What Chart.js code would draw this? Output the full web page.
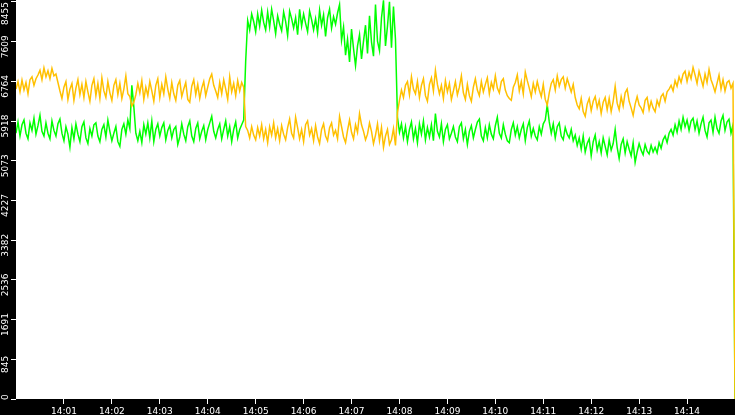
<!DOCTYPE html>
<html>
<head>
<meta charset="UTF-8">
<title>Line chart</title>
<script src="https://cdn.jsdelivr.net/npm/chart.js"></script>
<style>
    html, body { margin: 0; padding: 0; background: #000; }
    #chart { display: block; }
</style>
</head>
<body>
<canvas id="chart" width="735" height="415"></canvas>
<script>
// one sample every 2.5 s, starting 14:00:00
const STEP_S = 2.5;

const xTickSeconds = [60, 120, 180, 240, 300, 360, 420, 480, 540, 600, 660, 720, 780, 840];
const xTickLabels = ['14:01', '14:02', '14:03', '14:04', '14:05', '14:06', '14:07',
                     '14:08', '14:09', '14:10', '14:11', '14:12', '14:13', '14:14'];

const yTickValues = [0, 845.5, 1691, 2536.5, 3382, 4227.5, 5073, 5918.5, 6764, 7609.5, 8455];
const yTickLabels = ['0', '845', '1691', '2536', '3382', '4227', '5073', '5918', '6764', '7609', '8455'];

const orangeValues = [
    6600, 6760, 6540, 6790, 6580, 6740, 6500, 6800, 6860, 6680,
    6820, 6900, 7000, 6800, 7050, 6860, 6990, 6820, 7040, 6880,
    6920, 6740, 6560, 6400, 6640, 6760, 6380, 6600, 6720, 6360,
    6620, 6800, 6480, 6700, 6420, 6760, 6540, 6340, 6680, 6820,
    6460, 6720, 6400, 6840, 6560, 6420, 6760, 6520, 6360, 6680,
    6800, 6480, 6720, 6400, 6600, 6880, 6500, 6440, 6240, 6320,
    6480, 6720, 6520, 6780, 6380, 6640, 6460, 6760, 6560, 6340,
    6680, 6820, 6420, 6700, 6500, 6860, 6600, 6400, 6740, 6500,
    6360, 6680, 6780, 6440, 6600, 6740, 6380, 6320, 6660, 6800,
    6480, 6700, 6400, 6620, 6760, 6460, 6640, 6820, 6920, 6680,
    6560, 6420, 6740, 6500, 6800, 6600, 6380, 6860, 6540, 6720,
    6460, 6780, 6560, 6740, 6640, 5800, 5720, 5560, 5800, 5620,
    5520, 5780, 5600, 5840, 5540, 5740, 5460, 5800, 5620, 5880,
    5560, 5760, 5500, 5820, 5640, 5520, 5780, 5960, 5660, 5560,
    6000, 5780, 5540, 5740, 5480, 5840, 5920, 5620, 5760, 5500,
    5820, 5580, 5440, 5740, 5860, 5600, 5500, 5780, 5880, 5620,
    5720, 5540, 6020, 5800, 5580, 5460, 5720, 5940, 5680, 5540,
    5840, 5680, 6080, 5840, 5700, 5520, 5640, 5880, 5700, 5440,
    5620, 5860, 5500, 5780, 5360, 5600, 5740, 5420, 5520, 5760,
    5400, 6100, 6360, 6580, 6420, 6680, 6760, 6480, 6860, 6600,
    6500, 6760, 6420, 6680, 6820, 6460, 6340, 6700, 6840, 6560,
    7000, 6700, 6500, 6680, 6400, 6780, 6540, 6720, 6380, 6560,
    6760, 6480, 6640, 6880, 6520, 6380, 6700, 6460, 6340, 6640,
    6820, 6580, 6460, 6760, 6540, 6700, 6840, 6500, 6740, 6600,
    6880, 6620, 6520, 6760, 6820, 6580, 6460, 6400, 6360, 6640,
    6740, 6900, 6560, 6760, 6500, 6960, 6780, 6620, 6440, 6720,
    6540, 6760, 6580, 6440, 6700, 6380, 6260, 6520, 6720, 6800,
    6580, 6880, 6660, 6800, 6860, 6620, 6820, 6680, 6540, 6700,
    6420, 6260, 6180, 6400, 6120, 6020, 6280, 6400, 6140, 6340,
    6440, 6200, 6360, 6080, 6320, 6420, 6160, 6400, 6120, 6340,
    6660, 6300, 6160, 6440, 6240, 6520, 6600, 6340, 6200, 6040,
    6280, 6440, 6260, 6200, 6100, 6360, 6420, 6160, 6340, 6200,
    6120, 6360, 6240, 6440, 6500, 6340, 6540, 6600, 6680, 6560,
    6780, 6660, 6860, 6740, 6920, 6980, 6760, 6960, 6820, 7060,
    6900, 6720, 6980, 6820, 6660, 6920, 6740, 7020, 6800, 6680,
    6540, 6720, 6900, 6600, 6800, 6560, 6740, 6780, 6620, 6720,
    0
];

const greenValues = [
    5660, 5900, 5600, 5840, 5940, 5660, 5540, 5880, 5720, 5980,
    5640, 5820, 6040, 5700, 5600, 5880, 5660, 5540, 5920, 5720,
    5600, 5860, 5960, 5660, 5500, 5800, 5640, 5360, 5780, 5540,
    5860, 5640, 5480, 5800, 5900, 5560, 5440, 5760, 5600, 5840,
    5880, 5600, 5480, 5740, 5840, 5580, 5940, 5700, 5500, 5660,
    5800, 5480, 5380, 5740, 5860, 5640, 5940, 5760, 6680, 6220,
    5660, 5500, 5700, 5460, 5840, 5640, 5880, 5560, 5920, 5480,
    5740, 5860, 5600, 5780, 5880, 5520, 5720, 5820, 5560, 5740,
    5800, 5420, 5580, 5860, 5640, 5500, 5800, 5920, 5600, 5480,
    5760, 5880, 5540, 5700, 5820, 5520, 5740, 5880, 6020, 5700,
    5560, 5740, 5860, 5540, 5740, 5920, 5600, 5800, 5480, 5740,
    5900, 5560, 5740, 5840, 5940, 7200, 8060, 7860, 8200, 8040,
    7820, 8200, 7940, 8280, 8020, 7860, 8240, 7920, 8300, 8060,
    7780, 8160, 7980, 7840, 8240, 8040, 7740, 8260, 8100, 7900,
    8120, 7760, 8300, 7940, 8200, 8000, 7820, 8260, 8080, 7860,
    8100, 7800, 8280, 7960, 8180, 7720, 8120, 8300, 7900, 8140,
    7980, 8220, 8400, 7640, 7920, 7320, 7660, 7180, 7880, 7460,
    7100, 7520, 7760, 7240, 7620, 7960, 7360, 8160, 7600, 7300,
    8400, 7620, 7420, 8120, 8490, 7520, 7940, 8460, 7480, 8360,
    7660, 6000, 5680, 5860, 5560, 5800, 5480, 5740, 5900, 5540,
    5760, 5460, 5860, 5640, 5920, 5520, 5780, 5580, 5840, 5500,
    6080, 5700, 5580, 5860, 5480, 5740, 5840, 5540, 5660, 5800,
    5580, 5480, 5800, 5880, 5540, 5740, 5420, 5700, 5820, 5560,
    5740, 5900, 5960, 5600, 5500, 5780, 5560, 5840, 5640, 5540,
    5820, 6000, 5660, 5560, 5840, 5640, 5500, 5460, 5740, 5880,
    5620, 5800, 5560, 5740, 5860, 5500, 5780, 5920, 5600, 5760,
    5600, 5520, 5800, 5640, 5860, 5940, 6260, 5900, 5660, 5860,
    5560, 5800, 5880, 5600, 5520, 5780, 5640, 5560, 5740, 5500,
    5620, 5400, 5560, 5320, 5600, 5260, 5440, 5540, 5180, 5480,
    5620, 5300, 5480, 5240, 5560, 5380, 5200, 5520, 5300, 5440,
    5740, 5360, 5120, 5420, 5540, 5240, 5480, 5320, 5180, 5460,
    5040, 5260, 5440, 5300, 5200, 5420, 5280, 5220, 5400, 5260,
    5360, 5240, 5460, 5340, 5520, 5600, 5460, 5660, 5740, 5620,
    5840, 5680, 5920, 5740, 6000, 5800, 5940, 5720, 5920, 5980,
    5740, 5920, 5660, 5860, 6000, 5720, 5580, 5880, 5940, 5680,
    6000, 5760, 5660, 5920, 6040, 5720, 5900, 5960, 5660, 5840,
    0
];

const FONT = '"DejaVu Sans", sans-serif';

function toPoints(values) {
    return values.map((v, i) => ({ x: i * STEP_S, y: v }));
}

// black page, white plot area, rotated y labels
const backdrop = {
    id: 'backdrop',
    beforeDraw(chart) {
        const { ctx, chartArea: a } = chart;
        ctx.save();
        ctx.fillStyle = '#000';
        ctx.fillRect(0, 0, chart.width, chart.height);
        ctx.fillStyle = '#fff';
        ctx.fillRect(a.left, a.top, a.right - a.left, a.bottom - a.top);
        ctx.restore();
    },
    afterDraw(chart) {
        const { ctx, chartArea: a } = chart;
        const ys = chart.scales.y;
        ctx.save();
        ctx.fillStyle = '#fff';
        ctx.font = '9px ' + FONT;
        ctx.textAlign = 'center';
        ctx.textBaseline = 'middle';
        yTickValues.forEach((v, i) => {
            const label = yTickLabels[i];
            const w = ctx.measureText(label).width;
            let cy = ys.getPixelForValue(v) + 5;
            cy = Math.min(cy, a.bottom + 1 - w / 2);
            cy = Math.max(cy, a.top + 2 + w / 2);
            ctx.save();
            ctx.translate(5.5, cy);
            ctx.rotate(-Math.PI / 2);
            ctx.fillText(label, 0, 0);
            ctx.restore();
        });
        ctx.restore();
    }
};

new Chart(document.getElementById('chart'), {
    type: 'line',
    data: {
        datasets: [
            {
                label: 'orange',
                data: toPoints(orangeValues),
                borderColor: '#ffc000',
                borderWidth: 1.5,
                pointRadius: 0,
                tension: 0
            },
            {
                label: 'green',
                data: toPoints(greenValues),
                borderColor: '#00ff00',
                borderWidth: 1.5,
                pointRadius: 0,
                tension: 0
            }
        ]
    },
    options: {
        responsive: false,
        animation: false,
        devicePixelRatio: 1,
        layout: { padding: 0 },
        plugins: {
            legend: { display: false },
            tooltip: { enabled: false }
        },
        scales: {
            x: {
                type: 'linear',
                min: 0,
                max: 900,
                afterBuildTicks: (s) => { s.ticks = xTickSeconds.map(v => ({ value: v })); },
                afterFit: (s) => { s.height = 16; },
                border: { display: false },
                grid: { drawOnChartArea: false, drawTicks: true, tickLength: 5, color: '#fff' },
                ticks: {
                    color: '#fff',
                    padding: 2,
                    maxRotation: 0,
                    autoSkip: false,
                    font: { family: FONT, size: 9 },
                    callback: (v, i) => xTickLabels[i]
                }
            },
            y: {
                min: 0,
                max: 8497,
                afterBuildTicks: (s) => { s.ticks = yTickValues.map(v => ({ value: v })); },
                afterFit: (s) => { s.width = 16; },
                border: { display: false },
                grid: { drawOnChartArea: false, drawTicks: true, tickLength: 5, color: '#fff' },
                ticks: { display: false }
            }
        }
    },
    plugins: [backdrop]
});
</script>
</body>
</html>
